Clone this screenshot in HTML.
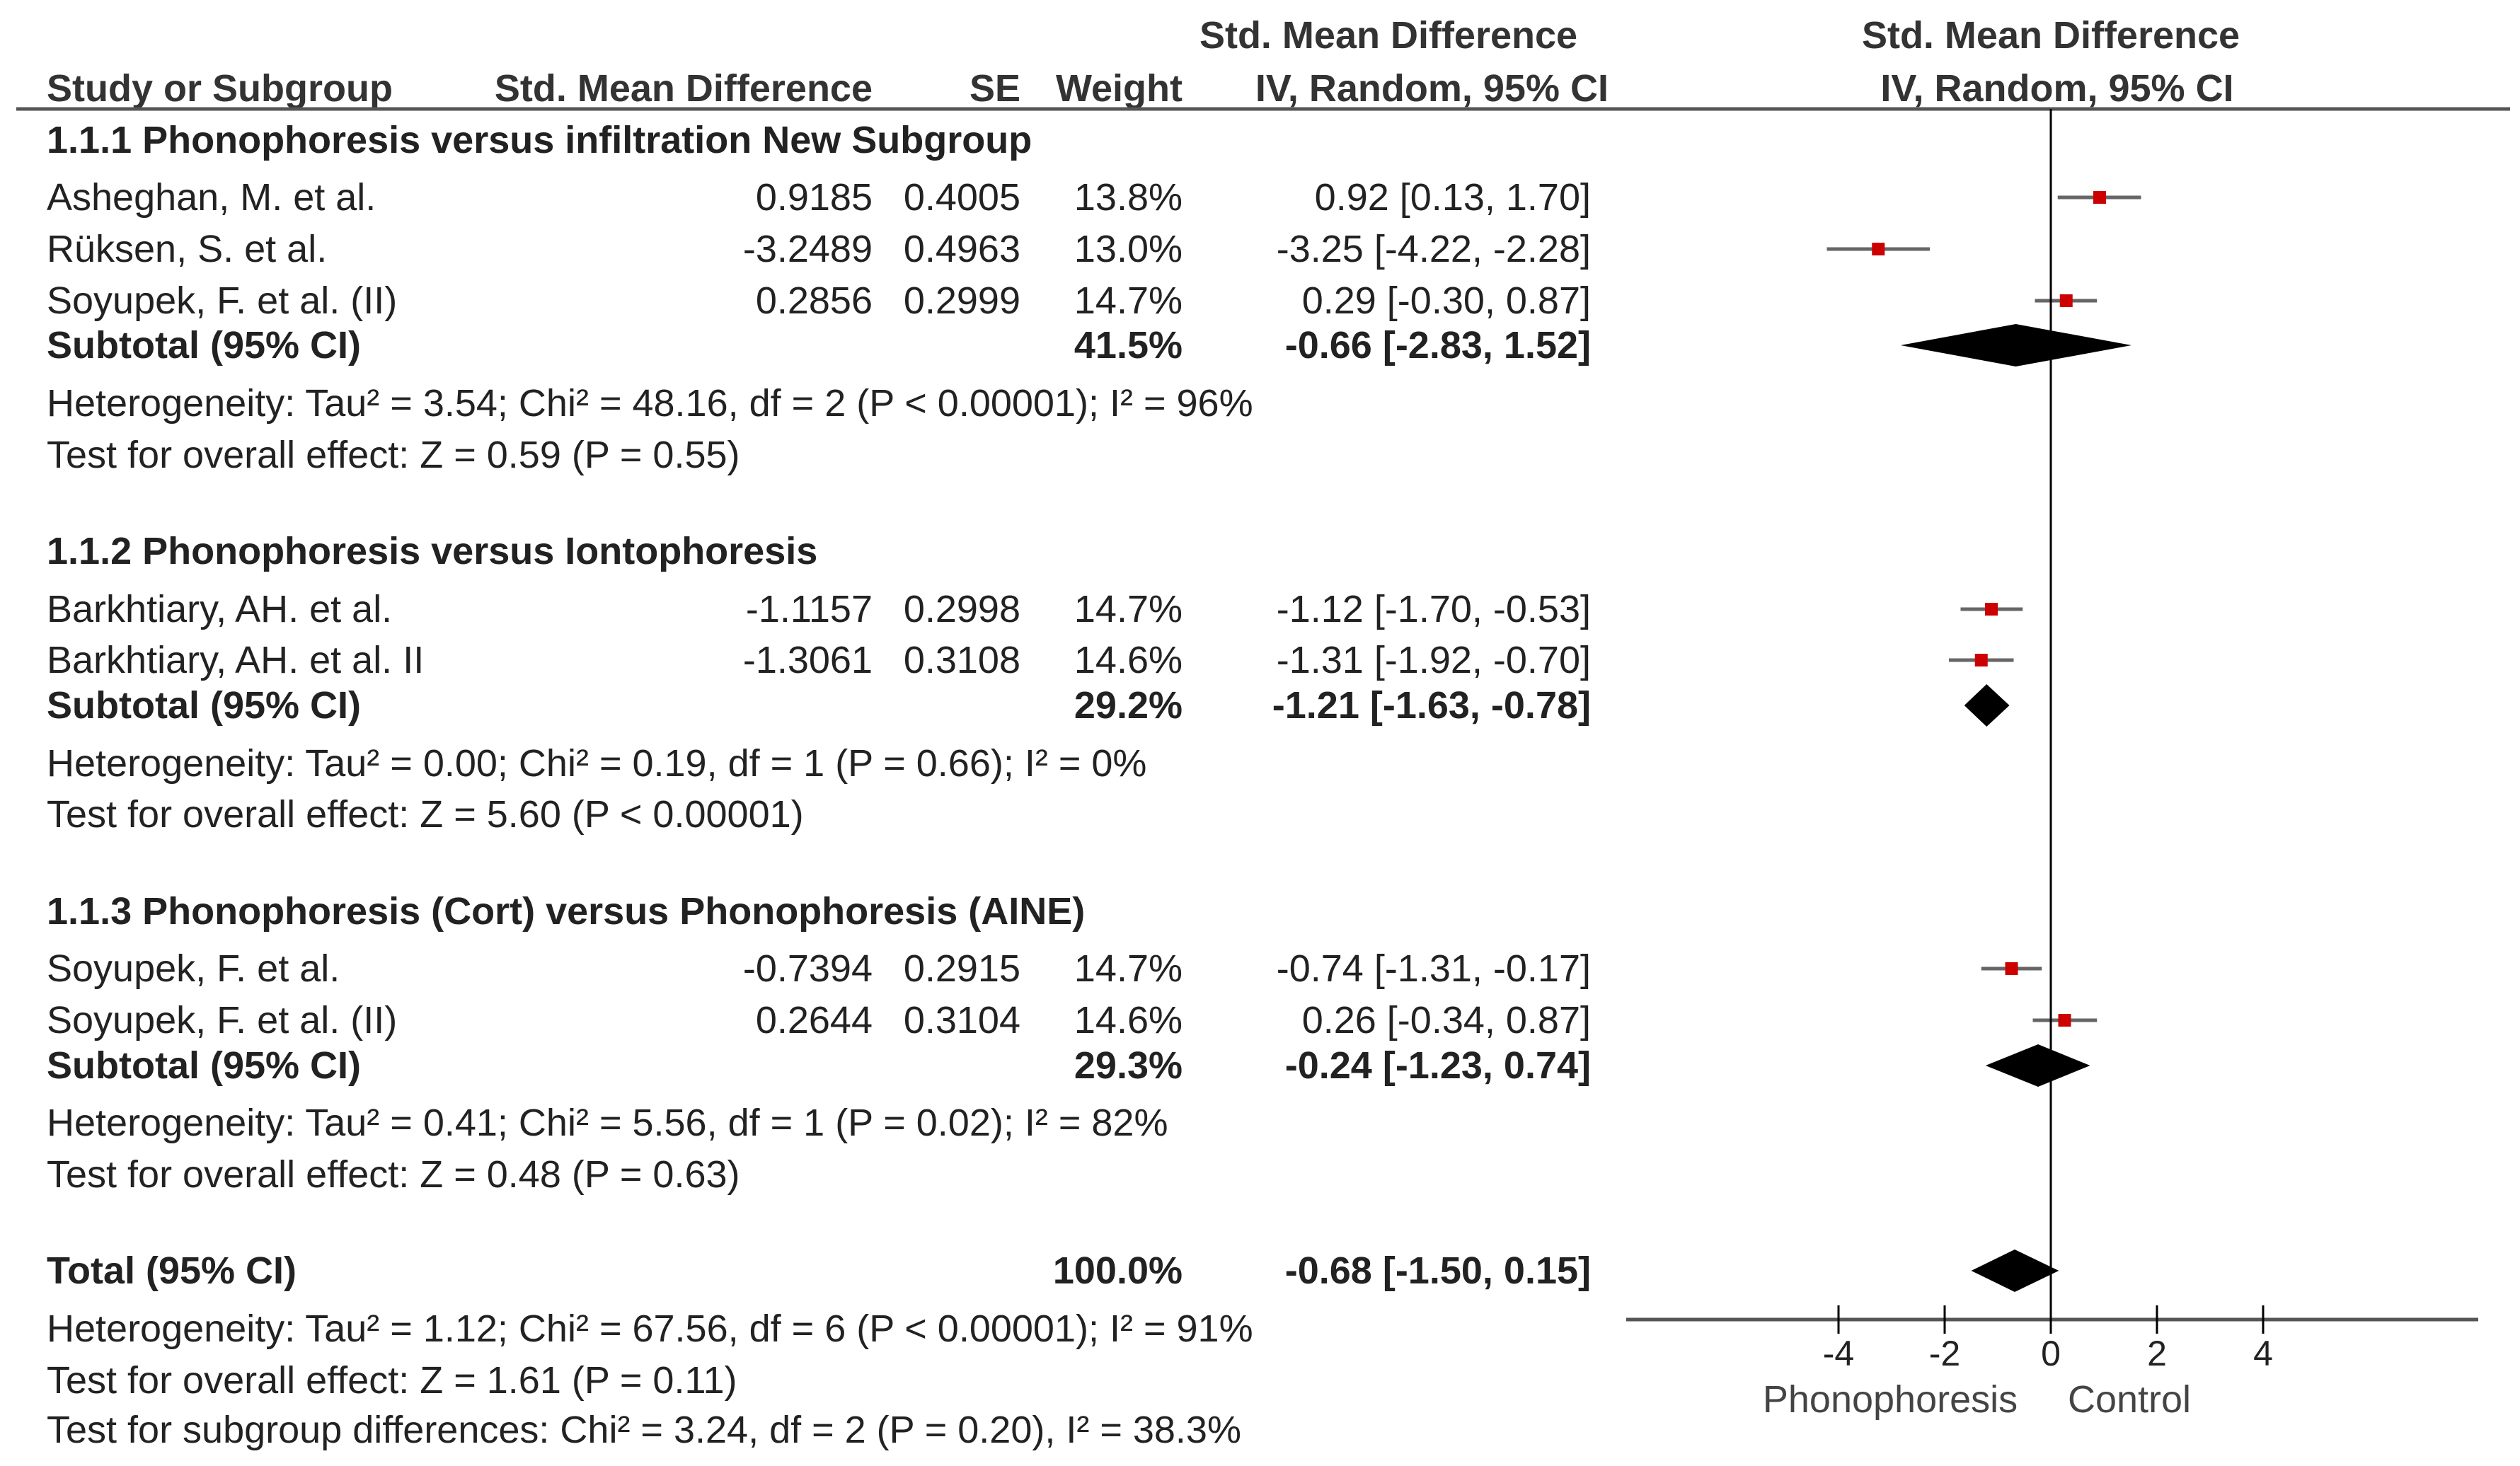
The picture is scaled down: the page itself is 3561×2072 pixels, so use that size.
<!DOCTYPE html>
<html><head><meta charset="utf-8"><style>
html,body{margin:0;padding:0;background:#fff;}
svg{display:block;font-family:"Liberation Sans",Arial,sans-serif;}
text{fill:#222;font-size:54px;}
.b{font-weight:bold;}
.h{font-weight:bold;fill:#333;}
.tk{font-size:50px;}
</style></head><body>
<svg id="plot" width="3561" height="2072" viewBox="0 0 3561 2072" xmlns="http://www.w3.org/2000/svg">
<g id="table"></g>
<g id="chart"></g>
</svg>
<script>
// ---- data ----
const studyNames = ["Asheghan, M. et al.","Rüksen, S. et al.","Soyupek, F. et al. (II)","Barkhtiary, AH. et al.","Barkhtiary, AH. et al. II","Soyupek, F. et al.","Soyupek, F. et al. (II)"];
const studySmd = [0.9185,-3.2489,0.2856,-1.1157,-1.3061,-0.7394,0.2644];
const studySe = [0.4005,0.4963,0.2999,0.2998,0.3108,0.2915,0.3104];
const studyWeight = ["13.8%","13.0%","14.7%","14.7%","14.6%","14.7%","14.6%"];
const studyEst = [0.92,-3.25,0.29,-1.12,-1.31,-0.74,0.26];
const studyLo = [0.13,-4.22,-0.30,-1.70,-1.92,-1.31,-0.34];
const studyHi = [1.70,-2.28,0.87,-0.53,-0.70,-0.17,0.87];
const studyRow = [1,2,3,8,9,14,15];
const subtotalEst = [-0.66,-1.21,-0.24,-0.68];
const subtotalLo = [-2.83,-1.63,-1.23,-1.50];
const subtotalHi = [1.52,-0.78,0.74,0.15];
const subtotalWeight = ["41.5%","29.2%","29.3%","100.0%"];
const subtotalRow = [4,10,16,19];
const subtotalLabel = ["Subtotal (95% CI)","Subtotal (95% CI)","Subtotal (95% CI)","Total (95% CI)"];
const tickValues = [-4,-2,0,2,4];
const tickLabels = ["-4","-2","0","2","4"];
const groupTitles = ["1.1.1 Phonophoresis versus infiltration New Subgroup","1.1.2 Phonophoresis versus Iontophoresis","1.1.3 Phonophoresis (Cort) versus Phonophoresis (AINE)"];
const groupRow = [0,7,13];
const noteLines = ["Heterogeneity: Tau² = 3.54; Chi² = 48.16, df = 2 (P < 0.00001); I² = 96%","Test for overall effect: Z = 0.59 (P = 0.55)","Heterogeneity: Tau² = 0.00; Chi² = 0.19, df = 1 (P = 0.66); I² = 0%","Test for overall effect: Z = 5.60 (P < 0.00001)","Heterogeneity: Tau² = 0.41; Chi² = 5.56, df = 1 (P = 0.02); I² = 82%","Test for overall effect: Z = 0.48 (P = 0.63)","Heterogeneity: Tau² = 1.12; Chi² = 67.56, df = 6 (P < 0.00001); I² = 91%","Test for overall effect: Z = 1.61 (P = 0.11)","Test for subgroup differences: Chi² = 3.24, df = 2 (P = 0.20), I² = 38.3%"];
const noteRow = [5,6,11,12,17,18,20,21,22];

// ---- layout ----
const rowY = [198,279,352,425,488,570,643,779,861,933,997,1079,1151,1288,1369,1442,1506,1587,1660,1796,1878,1951,2021];
const X0 = 2898, UNIT = 75;
const xs = v => X0 + v*UNIT;
const NS = "http://www.w3.org/2000/svg";
const table = document.getElementById('table');
const chart = document.getElementById('chart');
function mk(tag, attrs, parent){const e=document.createElementNS(NS,tag);for(const k in attrs)e.setAttribute(k,attrs[k]);parent.appendChild(e);return e;}
function txt(s,x,y,anchor,cls,parent){const e=mk('text',{x:x,y:y+18,'text-anchor':anchor||'start'},parent);if(cls)e.setAttribute('class',cls);e.textContent=s;return e;}

let e;
e=txt("Std. Mean Difference",1962,50,'middle','h',table);


e=txt("Study or Subgroup",66,125,'start','h',table);


e=txt("Std. Mean Difference",1233,125,'end','h',table);


e=txt("SE",1442,125,'end','h',table);


e=txt("Weight",1671,125,'end','h',table);


e=txt("IV, Random, 95% CI",2273,125,'end','h',table);


e=txt("Std. Mean Difference",2898,50,'middle','h',chart);


e=txt("IV, Random, 95% CI",2907,125,'middle','h',chart);


e=mk('line',{x1:23,y1:154,x2:3547,y2:154,stroke:'#555','stroke-width':5},table);



groupTitles.forEach((g,i)=>{
  const t=txt(g,66,rowY[groupRow[i]],'start','b',table);
  
  
});
studyNames.forEach((n,i)=>{
  const y=rowY[studyRow[i]];
  let t=txt(n,66,y,'start','',table);
  
  
  t=txt(studySmd[i].toFixed(4),1233,y,'end','',table);
  
  
  t=txt(studySe[i].toFixed(4),1442,y,'end','',table);
  
  
  t=txt(studyWeight[i],1671,y,'end','',table);
  
  
  t=txt(studyEst[i].toFixed(2)+" ["+studyLo[i].toFixed(2)+", "+studyHi[i].toFixed(2)+"]",2248,y,'end','',table);
  
  
  const l=mk('line',{x1:xs(studyLo[i]),y1:y,x2:xs(studyHi[i]),y2:y,stroke:'#666','stroke-width':5},chart);
  
  
  const r=mk('rect',{x:xs(studyEst[i])-9,y:y-9,width:18,height:18,fill:'#cc0000'},chart);
  
  
});
subtotalLabel.forEach((s,i)=>{
  const y=rowY[subtotalRow[i]];
  let t=txt(s,66,y,'start','b',table);
  
  
  t=txt(subtotalWeight[i],1671,y,'end','b',table);
  
  
  t=txt(subtotalEst[i].toFixed(2)+" ["+subtotalLo[i].toFixed(2)+", "+subtotalHi[i].toFixed(2)+"]",2248,y,'end','b',table);
  
  
  const h=30;
  const d=mk('polygon',{points:`${xs(subtotalLo[i])},${y} ${xs(subtotalEst[i])},${y-h} ${xs(subtotalHi[i])},${y} ${xs(subtotalEst[i])},${y+h}`,fill:'#000'},chart);
  
  
});
noteLines.forEach((n,i)=>{
  const t=txt(n,66,rowY[noteRow[i]],'start','',table);
  
  
});

e=mk('line',{x1:X0,y1:154,x2:X0,y2:1865,stroke:'#000','stroke-width':3},chart);


e=mk('line',{x1:2298,y1:1865,x2:3502,y2:1865,stroke:'#555','stroke-width':5},chart);


tickValues.forEach((v,i)=>{
  const tk=mk('line',{x1:xs(v),y1:1845,x2:xs(v),y2:1885,stroke:'#000','stroke-width':3},chart);
  
  
  const t=txt(tickLabels[i],xs(v),1912,'middle','tk',chart);
  
  
});
e=txt("Phonophoresis",2671,1978,'middle','',chart);
e.style.fill='#444';


e=txt("Control",3009,1978,'middle','',chart);
e.style.fill='#444';


</script>
</body></html>
